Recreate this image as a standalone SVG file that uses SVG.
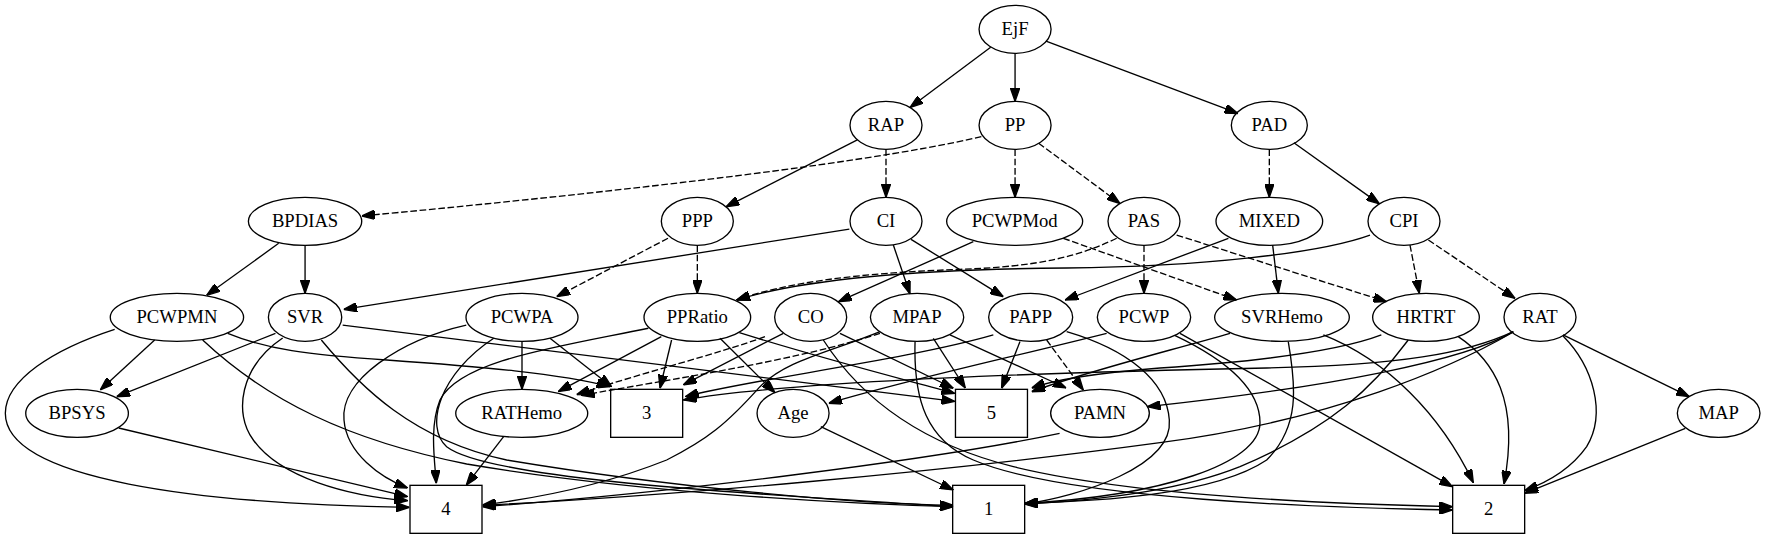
<svg xmlns="http://www.w3.org/2000/svg" width="1765" height="539" viewBox="0 0 1765 539">
<defs>
<marker id="ah" viewBox="0 0 10 7" markerWidth="10" markerHeight="7" refX="10" refY="3.5" orient="auto" markerUnits="userSpaceOnUse">
<path d="M0,0 L10,3.5 L0,7 Z" fill="#000" stroke="#000" stroke-width="1" stroke-dasharray="none"/>
</marker>
</defs>
<style>
.e{fill:none;stroke:#000;stroke-width:1;marker-end:url(#ah)}
.d{stroke-dasharray:5,2}
.n ellipse,.n rect{fill:none;stroke:#000;stroke-width:1}
.n text{font-family:"Liberation Serif","Times New Roman",serif;font-size:14px;text-anchor:middle;fill:#000}
</style>
<rect width="1765" height="539" fill="#fff"/>
<g transform="scale(1.33333)">
<g id="edges">
<path class="e" d="M743,35.4 L682.5,80.6"/>
<path class="e" d="M761.3,40 L761.3,76"/>
<path class="e" d="M784.5,30.9 L928.5,85.1"/>
<path class="e" d="M643,104.9 L544.5,155.1"/>
<path class="e d" d="M664.5,112 L664.5,148"/>
<path class="e d" d="M736,102.5 C640,125 420,148 271.2,162"/>
<path class="e d" d="M761.3,112 L761.3,148"/>
<path class="e d" d="M779,107.4 L840,152.6"/>
<path class="e d" d="M952,112 L952,148"/>
<path class="e" d="M970.4,107.1 L1034.6,152.9"/>
<path class="e" d="M209,182.5 L155,221.5"/>
<path class="e" d="M228.8,184 L228.8,220"/>
<path class="e d" d="M501,178.7 L417.5,222.5"/>
<path class="e d" d="M523,184 L523,220"/>
<path class="e" d="M637,171.8 L257.8,232"/>
<path class="e" d="M670,183.8 L682.5,220.5"/>
<path class="e" d="M683.3,179.5 L752.5,222.5"/>
<path class="e" d="M730,181.3 L628.8,226.3"/>
<path class="e d" d="M797.5,178.7 L927.5,225"/>
<path class="e d" d="M837.5,178.7 C810,192 780,200 720,202 C640,205 590,212 552.5,225"/>
<path class="e d" d="M858,184 L858,220"/>
<path class="e d" d="M882.5,176.3 L1040,226.3"/>
<path class="e" d="M921.3,178.7 L798.8,225"/>
<path class="e" d="M954.5,183.8 L958.8,220"/>
<path class="e" d="M1027.5,176.3 C990,190 900,200 800,201 C680,202 600,210 552.5,225"/>
<path class="e d" d="M1057.5,183.8 L1064.5,220"/>
<path class="e d" d="M1071.3,180 L1136.3,223.8"/>
<path class="e" d="M116,255 L75.2,292.5"/>
<path class="e" d="M86,247 C40,262 4,285 4,310 C4,360 150,378 307,380.5"/>
<path class="e" d="M170.8,250 C200,262 230,266 290,270 C360,275 420,280 457.5,290"/>
<path class="e" d="M152,255 C200,300 260,330 350,348 C480,370 640,378 714.8,380"/>
<path class="e" d="M206.6,250 L87.5,297.5"/>
<path class="e" d="M212,253.5 C180,275 175,310 190,330 C210,358 260,372 305.7,375.5"/>
<path class="e" d="M257,243.8 L716,301"/>
<path class="e" d="M241,255 C270,290 310,330 380,345 C500,365 640,378 714.8,379"/>
<path class="e" d="M391.5,256 L391.5,292"/>
<path class="e" d="M412.5,253.7 L458.7,290"/>
<path class="e" d="M349.7,243.8 C300,255 255,285 258,315 C260,340 285,358 305.7,366"/>
<path class="e" d="M370.3,253.7 C330,280 318,320 335,335 C370,362 600,372 714.8,380"/>
<path class="e" d="M503.7,255 L495,291.2"/>
<path class="e" d="M496,252.5 L418.7,293.7"/>
<path class="e" d="M540,253.7 L581.2,294.5"/>
<path class="e" d="M554.5,249.5 C620,270 680,285 716,295"/>
<path class="e" d="M486.3,246.2 C420,260 345,270 330,300 C322,320 326,345 327.2,362.5"/>
<path class="e" d="M587.5,250 L512.5,288.7"/>
<path class="e d" d="M573.7,252.5 C540,265 480,280 432.5,296"/>
<path class="e" d="M630,250 L715,291.2"/>
<path class="e" d="M617.5,255 C640,290 680,330 760,350 C850,372 1000,378 1089.4,380"/>
<path class="e" d="M700,253.7 L724,291"/>
<path class="e" d="M712.5,251.2 L799.6,291"/>
<path class="e" d="M660,248.7 C620,265 590,270 570,290 C545,318 530,330 500,345 C450,365 400,374 362,378.7"/>
<path class="e" d="M686.3,256.2 C685,300 695,330 730,345 C800,375 1000,381 1089.4,382.5"/>
<path class="e d" d="M660,250 C600,270 500,285 436,296.5"/>
<path class="e" d="M765,256.2 L751.2,291.2"/>
<path class="e d" d="M785,255 L812.5,292.5"/>
<path class="e" d="M745,251.2 C680,270 560,285 514,297.5"/>
<path class="e" d="M800,248.7 C845,262 875,285 877,315 C880,350 810,372 768.5,378"/>
<path class="e" d="M830,250 C750,270 680,285 621.6,302.5"/>
<path class="e" d="M881,251.5 C920,270 945,292 945,317 C945,348 870,372 768.5,377.5"/>
<path class="e" d="M885,250 L1089.4,365"/>
<path class="e" d="M922.5,250 C870,265 810,280 773.8,293.8"/>
<path class="e" d="M966.2,256.2 C972,290 975,320 950,345 C910,372 820,376 768.5,377.5"/>
<path class="e" d="M992.5,251.2 C1040,270 1080,310 1105,362"/>
<path class="e" d="M1036,251.2 C1000,265 930,272 870,276 C820,280 790,285 773.8,291"/>
<path class="e" d="M1093.7,252.5 C1120,270 1140,300 1128,363"/>
<path class="e" d="M1056.2,255 C1030,290 1000,320 930,350 C880,370 810,376 768.5,378"/>
<path class="e" d="M1172.3,251.2 L1267,297.5"/>
<path class="e" d="M1172.3,252 C1195,275 1205,310 1190,335 C1178,352 1160,362 1143.5,368"/>
<path class="e" d="M1135,248.7 C1100,270 1000,290 860.5,305"/>
<path class="e" d="M1135,249 C1090,275 1000,315 870,332 C700,355 500,372 362,379"/>
<path class="e" d="M1135,248.7 C1100,265 1050,274 950,276 C800,279 600,285 512.5,300"/>
<path class="e" d="M89,321 L305.7,372.5"/>
<path class="e" d="M377.7,327.5 L349.7,363.8"/>
<path class="e" d="M615.6,320 L715,367.5"/>
<path class="e" d="M794.7,325 C700,345 500,370 362,380"/>
<path class="e" d="M1264,321.2 L1143.5,370"/>
</g>
<g id="EjF" class="n"><ellipse cx="761.3" cy="22" rx="27" ry="18"/><text x="761.3" y="26.5">EjF</text></g>
<g id="RAP" class="n"><ellipse cx="664.5" cy="94" rx="27" ry="18"/><text x="664.5" y="98.5">RAP</text></g>
<g id="PP" class="n"><ellipse cx="761.3" cy="94" rx="27" ry="18"/><text x="761.3" y="98.5">PP</text></g>
<g id="PAD" class="n"><ellipse cx="952" cy="94" rx="28.5" ry="18"/><text x="952" y="98.5">PAD</text></g>
<g id="BPDIAS" class="n"><ellipse cx="228.8" cy="166" rx="42.5" ry="18"/><text x="228.8" y="170.5">BPDIAS</text></g>
<g id="PPP" class="n"><ellipse cx="523" cy="166" rx="27" ry="18"/><text x="523" y="170.5">PPP</text></g>
<g id="CI" class="n"><ellipse cx="664.5" cy="166" rx="27" ry="18"/><text x="664.5" y="170.5">CI</text></g>
<g id="PCWPMod" class="n"><ellipse cx="761" cy="166" rx="51" ry="18"/><text x="761" y="170.5">PCWPMod</text></g>
<g id="PAS" class="n"><ellipse cx="858" cy="166" rx="27" ry="18"/><text x="858" y="170.5">PAS</text></g>
<g id="MIXED" class="n"><ellipse cx="952" cy="166" rx="40" ry="18"/><text x="952" y="170.5">MIXED</text></g>
<g id="CPI" class="n"><ellipse cx="1053" cy="166" rx="27" ry="18"/><text x="1053" y="170.5">CPI</text></g>
<g id="PCWPMN" class="n"><ellipse cx="132.7" cy="238" rx="50" ry="18"/><text x="132.7" y="242.5">PCWPMN</text></g>
<g id="SVR" class="n"><ellipse cx="228.8" cy="238" rx="27.5" ry="18"/><text x="228.8" y="242.5">SVR</text></g>
<g id="PCWPA" class="n"><ellipse cx="391.5" cy="238" rx="42" ry="18"/><text x="391.5" y="242.5">PCWPA</text></g>
<g id="PPRatio" class="n"><ellipse cx="523" cy="238" rx="40" ry="18"/><text x="523" y="242.5">PPRatio</text></g>
<g id="CO" class="n"><ellipse cx="608" cy="238" rx="27" ry="18"/><text x="608" y="242.5">CO</text></g>
<g id="MPAP" class="n"><ellipse cx="687.8" cy="238" rx="35" ry="18"/><text x="687.8" y="242.5">MPAP</text></g>
<g id="PAPP" class="n"><ellipse cx="773" cy="238" rx="31.5" ry="18"/><text x="773" y="242.5">PAPP</text></g>
<g id="PCWP" class="n"><ellipse cx="858" cy="238" rx="35" ry="18"/><text x="858" y="242.5">PCWP</text></g>
<g id="SVRHemo" class="n"><ellipse cx="961.5" cy="238" rx="50.5" ry="18"/><text x="961.5" y="242.5">SVRHemo</text></g>
<g id="HRTRT" class="n"><ellipse cx="1069.5" cy="238" rx="40" ry="18"/><text x="1069.5" y="242.5">HRTRT</text></g>
<g id="RAT" class="n"><ellipse cx="1155" cy="238" rx="27" ry="18"/><text x="1155" y="242.5">RAT</text></g>
<g id="BPSYS" class="n"><ellipse cx="57.8" cy="310" rx="38.5" ry="18"/><text x="57.8" y="314.5">BPSYS</text></g>
<g id="RATHemo" class="n"><ellipse cx="391.3" cy="310" rx="49.5" ry="18"/><text x="391.3" y="314.5">RATHemo</text></g>
<g id="n3" class="n"><rect x="458" y="292" width="54" height="36"/><text x="485" y="314.5">3</text></g>
<g id="Age" class="n"><ellipse cx="594.8" cy="310" rx="27" ry="18"/><text x="594.8" y="314.5">Age</text></g>
<g id="n5" class="n"><rect x="716.6" y="292" width="54" height="36"/><text x="743.6" y="314.5">5</text></g>
<g id="PAMN" class="n"><ellipse cx="825" cy="310" rx="37" ry="18"/><text x="825" y="314.5">PAMN</text></g>
<g id="MAP" class="n"><ellipse cx="1289" cy="310" rx="31" ry="18"/><text x="1289" y="314.5">MAP</text></g>
<g id="n4" class="n"><rect x="307.5" y="364" width="54" height="36"/><text x="334.5" y="386.5">4</text></g>
<g id="n1" class="n"><rect x="714.5" y="364" width="54" height="36"/><text x="741.5" y="386.5">1</text></g>
<g id="n2" class="n"><rect x="1089.5" y="364" width="54" height="36"/><text x="1116.5" y="386.5">2</text></g>
</g>
</svg>
